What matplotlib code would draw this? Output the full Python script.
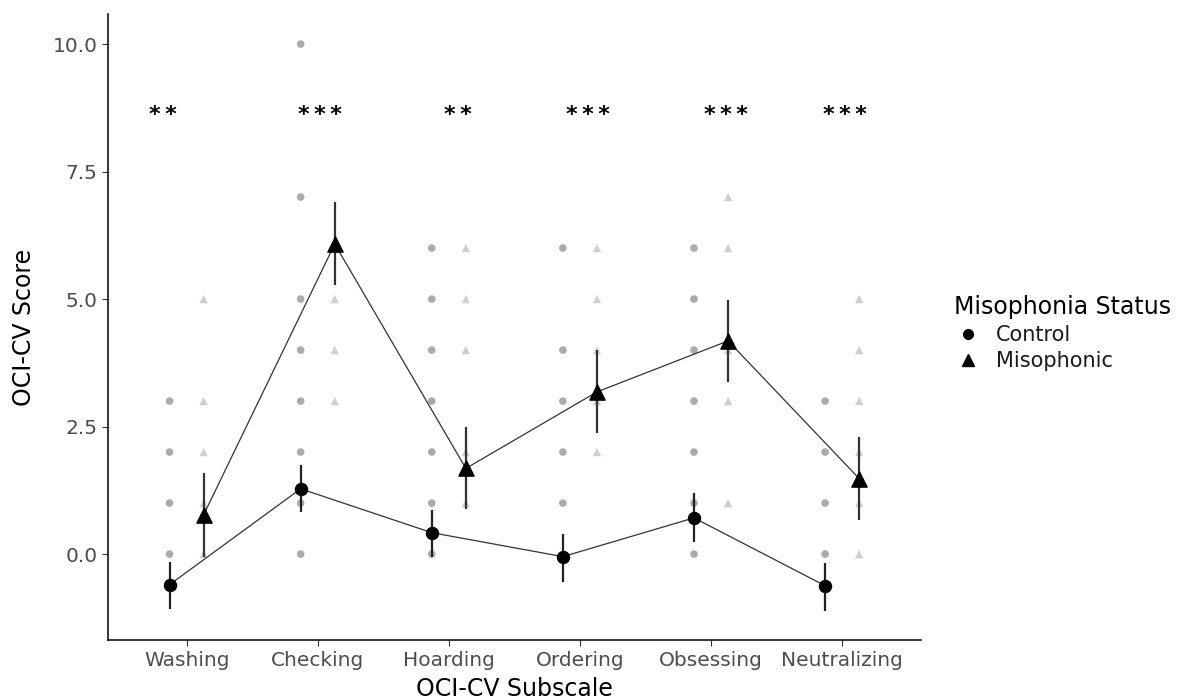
import matplotlib
matplotlib.use("Agg")
import matplotlib.pyplot as plt
import numpy as np
from matplotlib.lines import Line2D

plt.rcParams['font.family'] = ['DejaVu Sans']

# subscales on the x axis
subscales = ['Washing', 'Checking', 'Hoarding', 'Ordering', 'Obsessing', 'Neutralizing']

# group means and error bar ends
control_mean = [-0.60, 1.28, 0.42, -0.05, 0.71, -0.62]
control_lo = [-1.08, 0.82, -0.05, -0.54, 0.24, -1.11]
control_hi = [-0.15, 1.75, 0.86, 0.39, 1.20, -0.17]

miso_mean = [0.77, 6.08, 1.68, 3.18, 4.18, 1.48]
miso_lo = [-0.05, 5.27, 0.88, 2.38, 3.38, 0.67]
miso_hi = [1.59, 6.90, 2.49, 4.00, 4.98, 2.29]

# raw scores (distinct values visible per subscale)
control_raw = [
    [0, 1, 2, 3],
    [0, 1, 2, 3, 4, 5, 7, 10],
    [0, 1, 2, 3, 4, 5, 6],
    [1, 2, 3, 4, 6],
    [0, 1, 2, 3, 4, 5, 6],
    [0, 1, 2, 3],
]
miso_raw = [
    [0, 1, 2, 3, 5],
    [3, 4, 5, 6],
    [1, 2, 4, 5, 6],
    [2, 3, 4, 5, 6],
    [1, 3, 4, 6, 7],
    [0, 1, 2, 3, 4, 5],
]

# significance stars and where they sit
stars = ['**', '***', '**', '***', '***', '***']
star_x = [0.82, 2.02, 3.07, 4.06, 5.11, 6.02]
star_y = 8.6

fig = plt.figure(figsize=(11.99, 6.99), dpi=100, facecolor='white')
ax = fig.add_axes([0.090, 0.084, 0.678, 0.896])

x = np.arange(1, len(subscales) + 1)
dodge = 0.13
xc = x - dodge
xm = x + dodge

# raw points
for i in range(len(subscales)):
    ax.scatter([xc[i]] * len(control_raw[i]), control_raw[i], marker='o', s=30,
               color='#ababab', edgecolors='none', zorder=1)
    ax.scatter([xm[i]] * len(miso_raw[i]), miso_raw[i], marker='^', s=36,
               color='#cfcfcf', edgecolors='none', zorder=1)

# lines through the means
ax.plot(xc, control_mean, color='#333333', lw=0.9, zorder=2)
ax.plot(xm, miso_mean, color='#333333', lw=0.9, zorder=2)

# error bars
ax.vlines(xc, control_lo, control_hi, color='#222222', lw=1.6, zorder=3)
ax.vlines(xm, miso_lo, miso_hi, color='#333333', lw=1.6, zorder=3)

# means
ax.scatter(xc, control_mean, marker='o', s=75, color='black', zorder=4)
ax.scatter(xm, miso_mean, marker='^', s=120, color='black', zorder=4)

for sx, st in zip(star_x, stars):
    ax.text(sx, star_y, '\u2009'.join(st), ha='center', va='center',
            fontsize=16, fontweight='bold', color='black')

ax.set_xlim(0.4, 6.6)
ax.set_ylim(-1.69, 10.59)
ax.set_xticks(x)
ax.set_xticklabels(subscales)
ax.set_yticks([0, 2.5, 5, 7.5, 10])
ax.set_yticklabels(['0.0', '2.5', '5.0', '7.5', '10.0'])
ax.tick_params(axis='both', colors='#333333', labelcolor='#4d4d4d', labelsize=14.5,
               length=4, width=0.8)
ax.spines['top'].set_visible(False)
ax.spines['right'].set_visible(False)
ax.spines['left'].set_linewidth(1.1)
ax.spines['bottom'].set_linewidth(1.1)
ax.set_xlabel('OCI-CV Subscale', fontsize=17, va='top')
ax.set_ylabel('OCI-CV Score', fontsize=17)
ax.xaxis.set_label_coords(0.5, -0.058)
ax.yaxis.set_label_coords(-0.089, 0.5)

handles = [
    Line2D([], [], marker='o', ls='none', color='black', markersize=7),
    Line2D([], [], marker='^', ls='none', color='black', markersize=9),
]
leg = fig.legend(handles, ['Control', 'Misophonic'], title='Misophonia Status',
                 loc='upper left', bbox_to_anchor=(0.780, 0.605), frameon=False,
                 fontsize=15, title_fontsize=17, alignment='left',
                 handletextpad=0.7, labelspacing=0.3, handlelength=1.3)
for t in leg.get_texts():
    t.set_color('#1a1a1a')

fig.savefig('out.png', dpi=100)
